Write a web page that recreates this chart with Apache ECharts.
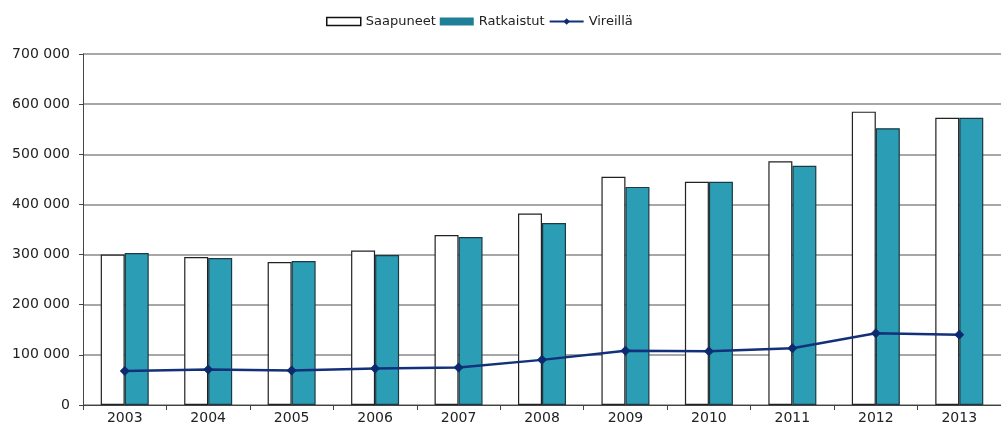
<!DOCTYPE html>
<html>
<head>
<meta charset="utf-8">
<script src="https://cdn.jsdelivr.net/npm/echarts@6/dist/echarts.min.js"></script>
<style>
  html, body { margin: 0; padding: 0; background: #fff; }
  #chart { width: 1001px; height: 432px; }
</style>
</head>
<body>
<div id="chart"></div>
<script>
var years = ['2003', '2004', '2005', '2006', '2007', '2008', '2009', '2010', '2011', '2012', '2013'];
var saapuneet = [300000, 295000, 285000, 308000, 339000, 382000, 455000, 445000, 486000, 585000, 573000];
var ratkaistut = [303000, 293000, 287000, 299000, 335000, 363000, 435000, 445000, 477000, 552000, 573000];
var vireilla = [68000, 71000, 69000, 73000, 75000, 90000, 108000, 107000, 113000, 143000, 140000];

var myChart = echarts.init(document.getElementById('chart'));
var font = 'DejaVu Sans, sans-serif';

var option = {
  animation: false,
  textStyle: { fontFamily: font },
  legend: {
    left: 321,
    top: 10,
    itemWidth: 34,
    itemHeight: 8,
    itemGap: 4,
    textStyle: { fontSize: 13, color: '#222', fontFamily: font },
    data: [
      { name: 'Saapuneet', icon: 'rect', itemStyle: { color: '#fff', borderColor: '#111', borderWidth: 1.5 } },
      { name: 'Ratkaistut', icon: 'rect', itemStyle: { color: '#1f7f96', borderWidth: 0 } },
      { name: 'Vireillä' }
    ]
  },
  grid: { left: 83, right: -9, top: 54, bottom: 27 },
  xAxis: {
    type: 'category',
    data: years,
    axisLine: { lineStyle: { color: '#444', width: 1 } },
    axisTick: { show: true, length: 5, lineStyle: { color: '#444' } },
    axisLabel: { color: '#222', fontSize: 14, margin: 6 }
  },
  yAxis: {
    type: 'value',
    min: 0,
    max: 700000,
    interval: 100000,
    axisLine: { show: true, lineStyle: { color: '#444', width: 1 } },
    axisTick: { show: true, length: 4, lineStyle: { color: '#444' } },
    axisLabel: {
      color: '#222', fontSize: 14, margin: 13,
      formatter: function (v) {
        return v === 0 ? '0' : String(v).replace(/\B(?=(\d{3})+(?!\d))/g, ' ');
      }
    },
    splitLine: { lineStyle: { color: '#8a8a8a', width: 1.5 } }
  },
  series: [
    {
      name: 'Saapuneet',
      type: 'bar',
      data: saapuneet,
      barWidth: 24,
      barGap: '0%',
      itemStyle: { color: '#fff', borderColor: '#222', borderWidth: 1.2 }
    },
    {
      name: 'Ratkaistut',
      type: 'bar',
      data: ratkaistut,
      barWidth: 24,
      itemStyle: { color: '#2b9db5', borderColor: '#1d3a44', borderWidth: 1.2 }
    },
    {
      name: 'Vireillä',
      type: 'line',
      data: vireilla,
      symbol: 'diamond',
      symbolSize: 10,
      lineStyle: { color: '#13307a', width: 2.5 },
      itemStyle: { color: '#0e2a6e' }
    }
  ]
};
myChart.setOption(option);
</script>
</body>
</html>
